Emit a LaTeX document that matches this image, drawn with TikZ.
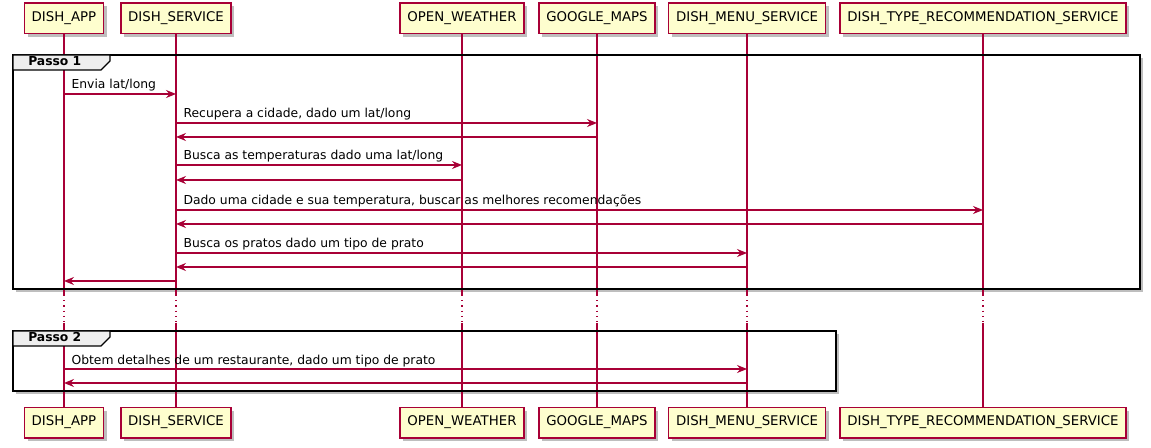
\documentclass[tikz,border=0pt]{standalone}
\usepackage{fontspec}
\setmainfont{DejaVu Sans}
\usetikzlibrary{arrows.meta,shadows}

\definecolor{umlred}{RGB}{168,0,54}
\definecolor{umlfill}{RGB}{254,254,206}
\definecolor{tabgray}{RGB}{238,238,238}
\definecolor{shadowgray}{RGB}{190,190,190}

\tikzset{
  box shadow/.style={drop shadow={shadow xshift=2.5pt, shadow yshift=-2.5pt, opacity=1, fill=shadowgray}},
  actor/.style={draw=umlred, fill=umlfill, line width=1pt, minimum height=23pt,
    inner xsep=5.5pt, font=\fontsize{10pt}{12pt}\selectfont, box shadow},
  lifeline/.style={color=umlred, line width=0.9pt},
  msgline/.style={color=umlred, line width=0.9pt, -{Stealth[length=7.5pt,width=6pt,inset=2.5pt]}},
  msglabel/.style={anchor=base west, inner sep=0pt, text=black,
    font=\fontsize{9.25pt}{11pt}\selectfont, xshift=5.25pt, yshift=3.75pt},
  groupframe/.style={draw=black, line width=1.4pt},
  grouptab/.style={draw=black, fill=tabgray, line width=0.8pt},
  grouplabel/.style={anchor=base west, inner sep=0pt, font=\fontsize{9.25pt}{11pt}\selectfont\bfseries},
}

\begin{document}
\begin{tikzpicture}[x=0.75pt, y=-0.75pt]
    \useasboundingbox (0,0) rectangle (1151,448);

    % group bodies with shadows
    \fill[white, box shadow] (13,55) rectangle (1140,289);
    \fill[white, box shadow] (13,331) rectangle (836,391);

    % participants
    \node[actor] (app) at (64,18.5) {DISH\_APP};
    \node[actor] (svc) at (176,18.5) {DISH\_SERVICE};
    \node[actor] (weather) at (462,18.5) {OPEN\_WEATHER};
    \node[actor] (maps) at (597,18.5) {GOOGLE\_MAPS};
    \node[actor] (menu) at (747,18.5) {DISH\_MENU\_SERVICE};
    \node[actor] (rec) at (983,18.5) {DISH\_TYPE\_RECOMMENDATION\_SERVICE};

    \node[actor] (app-b) at (64,422.5) {DISH\_APP};
    \node[actor] (svc-b) at (176,422.5) {DISH\_SERVICE};
    \node[actor] (weather-b) at (462,422.5) {OPEN\_WEATHER};
    \node[actor] (maps-b) at (597,422.5) {GOOGLE\_MAPS};
    \node[actor] (menu-b) at (747,422.5) {DISH\_MENU\_SERVICE};
    \node[actor] (rec-b) at (983,422.5) {DISH\_TYPE\_RECOMMENDATION\_SERVICE};

    % lifelines
    \foreach \p in {app,svc,weather,maps,menu,rec} {
      \draw[lifeline] (\p.south) -- (\p |- 0,295);
      \draw[lifeline, dash pattern=on 0.9pt off 3pt] (\p |- 0,295) -- (\p |- 0,323);
      \draw[lifeline] (\p |- 0,323) -- (\p-b.north);
    }

    % group frames and tabs
    \draw[groupframe] (13,55) rectangle (1140,289);
    \draw[groupframe] (13,331) rectangle (836,391);
    \draw[grouptab] (13,55) -- (110,55) -- (110,61) -- (101,70) -- (13,70) -- cycle;
    \node[grouplabel] (passo1) at (28,66) {Passo 1};
    \draw[grouptab] (13,331) -- (110,331) -- (110,337) -- (101,346) -- (13,346) -- cycle;
    \node[grouplabel] (passo2) at (28,342) {Passo 2};

    % Passo 1
    \draw[msgline] (app |- 0,94) -- (svc |- 0,94) node[msglabel, pos=0] {Envia lat/long};
    \draw[msgline] (svc |- 0,123) -- (maps |- 0,123) node[msglabel, pos=0] {Recupera a cidade, dado um lat/long};
    \draw[msgline] (maps |- 0,137) -- (svc |- 0,137);
    \draw[msgline] (svc |- 0,165) -- (weather |- 0,165) node[msglabel, pos=0] {Busca as temperaturas dado uma lat/long};
    \draw[msgline] (weather |- 0,180) -- (svc |- 0,180);
    \draw[msgline] (svc |- 0,210) -- (rec |- 0,210) node[msglabel, pos=0] {Dado uma cidade e sua temperatura, buscar as melhores recomendações};
    \draw[msgline] (rec |- 0,224) -- (svc |- 0,224);
    \draw[msgline] (svc |- 0,253) -- (menu |- 0,253) node[msglabel, pos=0] {Busca os pratos dado um tipo de prato};
    \draw[msgline] (menu |- 0,267) -- (svc |- 0,267);
    \draw[msgline] (svc |- 0,281) -- (app |- 0,281);

    % Passo 2
    \draw[msgline] (app |- 0,369) -- (menu |- 0,369) node[msglabel, pos=0] {Obtem detalhes de um restaurante, dado um tipo de prato};
    \draw[msgline] (menu |- 0,383) -- (app |- 0,383);
\end{tikzpicture}
\end{document}
